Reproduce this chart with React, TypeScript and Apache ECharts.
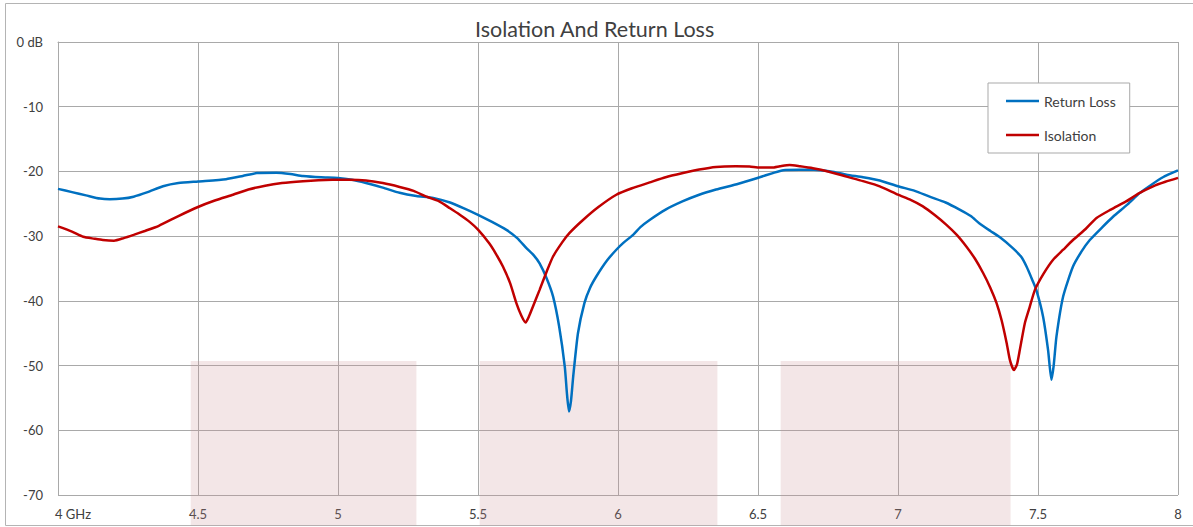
import React, { useEffect, useRef } from "react";
import * as echarts from "echarts";

const rlFreq = [4.00,4.05,4.10,4.15,4.185,4.23,4.27,4.32,4.375,4.43,4.50,4.60,4.66,4.71,4.78,4.83,4.875,4.94,5.00,5.05,5.10,5.16,5.22,5.28,5.34,5.40,5.45,5.50,5.55,5.60,5.64,5.673,5.70,5.72,5.745,5.768,5.79,5.81,5.818,5.825,5.832,5.84,5.857,5.88,5.90,5.923,5.96,5.994,6.02,6.054,6.08,6.113,6.17,6.232,6.29,6.35,6.43,6.506,6.55,6.59,6.65,6.70,6.76,6.816,6.875,6.935,7.00,7.06,7.113,7.17,7.22,7.26,7.29,7.33,7.363,7.41,7.44,7.459,7.48,7.494,7.518,7.536,7.548,7.556,7.566,7.59,7.625,7.655,7.685,7.73,7.768,7.82,7.863,7.90,7.946,8.00];
const rlValues = [-22.7,-23.2,-23.7,-24.2,-24.3,-24.2,-23.9,-23.2,-22.3,-21.8,-21.55,-21.2,-20.7,-20.25,-20.2,-20.4,-20.7,-20.9,-21.0,-21.3,-21.8,-22.5,-23.3,-23.8,-24.1,-24.8,-25.7,-26.7,-27.8,-29.0,-30.3,-31.85,-33.0,-34.2,-36.5,-39.3,-44.0,-50.2,-54.5,-57.1,-55.5,-51.7,-45.0,-40.35,-38.0,-36.2,-33.8,-32.1,-31.0,-29.8,-28.6,-27.5,-25.9,-24.6,-23.6,-22.8,-21.9,-20.9,-20.3,-19.8,-19.75,-19.75,-20.0,-20.5,-20.9,-21.4,-22.3,-23.0,-23.9,-24.8,-25.9,-26.9,-28.0,-29.2,-30.15,-31.85,-33.2,-34.7,-36.8,-38.3,-42.4,-47.6,-52.2,-50.0,-45.5,-39.3,-34.7,-32.4,-30.6,-28.6,-27.0,-25.1,-23.35,-22.2,-20.9,-19.85];

const isoFreq = [4.00,4.05,4.09,4.13,4.16,4.20,4.235,4.27,4.31,4.36,4.43,4.50,4.56,4.625,4.68,4.74,4.80,4.875,4.93,4.98,5.04,5.10,5.16,5.22,5.27,5.316,5.36,5.40,5.435,5.47,5.50,5.54,5.565,5.589,5.615,5.637,5.655,5.67,5.683,5.696,5.72,5.745,5.768,5.80,5.827,5.875,5.93,5.994,6.05,6.113,6.17,6.232,6.29,6.35,6.42,6.47,6.506,6.55,6.578,6.613,6.65,6.696,6.75,6.816,6.875,6.935,7.00,7.045,7.089,7.13,7.173,7.21,7.244,7.275,7.304,7.33,7.352,7.37,7.388,7.40,7.414,7.425,7.435,7.453,7.47,7.489,7.52,7.554,7.59,7.625,7.67,7.709,7.76,7.816,7.86,7.911,7.955,8.00];
const isoValues = [-28.5,-29.3,-30.1,-30.4,-30.6,-30.7,-30.3,-29.8,-29.2,-28.4,-26.9,-25.5,-24.5,-23.6,-22.8,-22.2,-21.8,-21.5,-21.35,-21.3,-21.3,-21.4,-21.8,-22.4,-23.0,-23.9,-24.6,-25.7,-26.7,-27.8,-29.0,-31.1,-32.8,-34.7,-37.3,-40.35,-42.3,-43.35,-42.3,-40.9,-38.3,-35.5,-33.15,-31.0,-29.5,-27.5,-25.5,-23.6,-22.6,-21.7,-20.9,-20.25,-19.7,-19.3,-19.2,-19.25,-19.4,-19.4,-19.2,-19.0,-19.2,-19.5,-20.0,-20.8,-21.5,-22.3,-23.6,-24.4,-25.4,-26.7,-28.25,-29.8,-31.6,-33.5,-35.7,-38.0,-40.35,-43.0,-46.5,-49.2,-50.7,-49.8,-47.6,-43.45,-41.0,-38.3,-35.8,-33.65,-32.1,-30.6,-28.9,-27.2,-25.9,-24.6,-23.4,-22.3,-21.6,-21.0];

// shaded bands: [start GHz, end GHz, top dB]
const bandStart = [4.474, 5.506, 6.581];
const bandEnd = [5.28, 6.355, 7.402];
const bandTop = -49.3;

const seriesNames = ["Return Loss", "Isolation"];
const chartTitle = "Isolation And Return Loss";

const FONT = "Lato, 'Open Sans', sans-serif";
const TEXT = "#404040";
const GRID = "#a9a9a9";
// plain line legend icon (tiny corner dots keep the 33x14 box)
const LINE_ICON =
  "path://M0,0h0.01v0.01h-0.01z M0,5.75h33v2.5h-33z M32.99,13.99h0.01v0.01h-0.01z";

export default function App() {
  const ref = useRef<HTMLDivElement>(null);
  useEffect(() => {
    if (!ref.current) return;
    const chart = echarts.init(ref.current, undefined, { renderer: "svg" });
    const rl = rlFreq.map((f, i) => [f, rlValues[i]]);
    const iso = isoFreq.map((f, i) => [f, isoValues[i]]);
    const bands = bandStart.map((s, i) => [s, bandEnd[i], bandTop]);
    chart.setOption({
      animation: false,
      backgroundColor: "#ffffff",
      title: {
        text: chartTitle,
        left: 470,
        top: 13,
        textStyle: { fontFamily: FONT, fontSize: 21.5, fontWeight: "normal", color: TEXT },
      },
      graphic: [
        {
          type: "rect",
          shape: { x: 5.5, y: 3.5, width: 1200, height: 522 },
          style: { fill: "none", stroke: "#b4b4b4", lineWidth: 1 },
          silent: true,
        },
      ],
      legend: {
        orient: "vertical",
        left: 988,
        top: 83,
        padding: [11, 14, 11, 18],
        itemWidth: 33,
        itemHeight: 14,
        itemGap: 20,
        borderColor: "#a9a9a9",
        borderWidth: 1,
        backgroundColor: "#ffffff",
        data: seriesNames.map((n) => ({ name: n, icon: LINE_ICON })),
        textStyle: { fontFamily: FONT, fontSize: 14, color: TEXT },
      },
      grid: { left: 58, top: 42, width: 1120, height: 453, containLabel: false },
      xAxis: {
        type: "value",
        min: 4,
        max: 8,
        interval: 0.5,
        axisLine: { show: true, lineStyle: { color: GRID, width: 1 } },
        axisTick: { show: false },
        splitLine: { show: true, lineStyle: { color: GRID, width: 1 } },
        axisLabel: {
          margin: 12,
          fontFamily: FONT,
          fontSize: 13,
          color: TEXT,
          formatter: (v: number) => (v === 4 ? "{f|4 GHz}" : String(v)),
          rich: {
            f: { fontFamily: FONT, fontSize: 13, color: TEXT, padding: [0, 0, 0, 30] },
          },
        },
      },
      yAxis: {
        type: "value",
        min: -70,
        max: 0,
        interval: 10,
        axisLine: { show: true, lineStyle: { color: GRID, width: 1 } },
        axisTick: { show: false },
        splitLine: { show: true, lineStyle: { color: GRID, width: 1 } },
        axisLabel: {
          margin: 15,
          fontFamily: FONT,
          fontSize: 13,
          color: TEXT,
          formatter: (v: number) => (v === 0 ? "0 dB" : String(v)),
        },
      },
      series: [
        {
          type: "custom",
          name: "bands",
          z: 1,
          clip: false,
          silent: true,
          encode: { x: [0, 1], y: 2 },
          data: bands,
          renderItem: (params: any, api: any) => {
            const a = api.coord([api.value(0), api.value(2)]);
            const b = api.coord([api.value(1), api.value(2)]);
            const bottom = api.getHeight() - 1.5;
            return {
              type: "rect",
              shape: { x: a[0], y: a[1], width: b[0] - a[0], height: bottom - a[1] },
              style: { fill: "rgba(200,140,145,0.22)" },
            };
          },
        },
        {
          type: "line",
          name: seriesNames[0],
          data: rl,
          symbol: "none",
          smooth: 0.2,
          z: 3,
          lineStyle: { color: "#0070c0", width: 2.5 },
          itemStyle: { color: "#0070c0" },
        },
        {
          type: "line",
          name: seriesNames[1],
          data: iso,
          symbol: "none",
          smooth: 0.2,
          z: 4,
          lineStyle: { color: "#c00000", width: 2.5 },
          itemStyle: { color: "#c00000" },
        },
      ],
    });
    return () => chart.dispose();
  }, []);
  return (
    <div
      ref={ref}
      style={{ position: "fixed", left: 0, top: 0, width: 1193, height: 527 }}
    />
  );
}
